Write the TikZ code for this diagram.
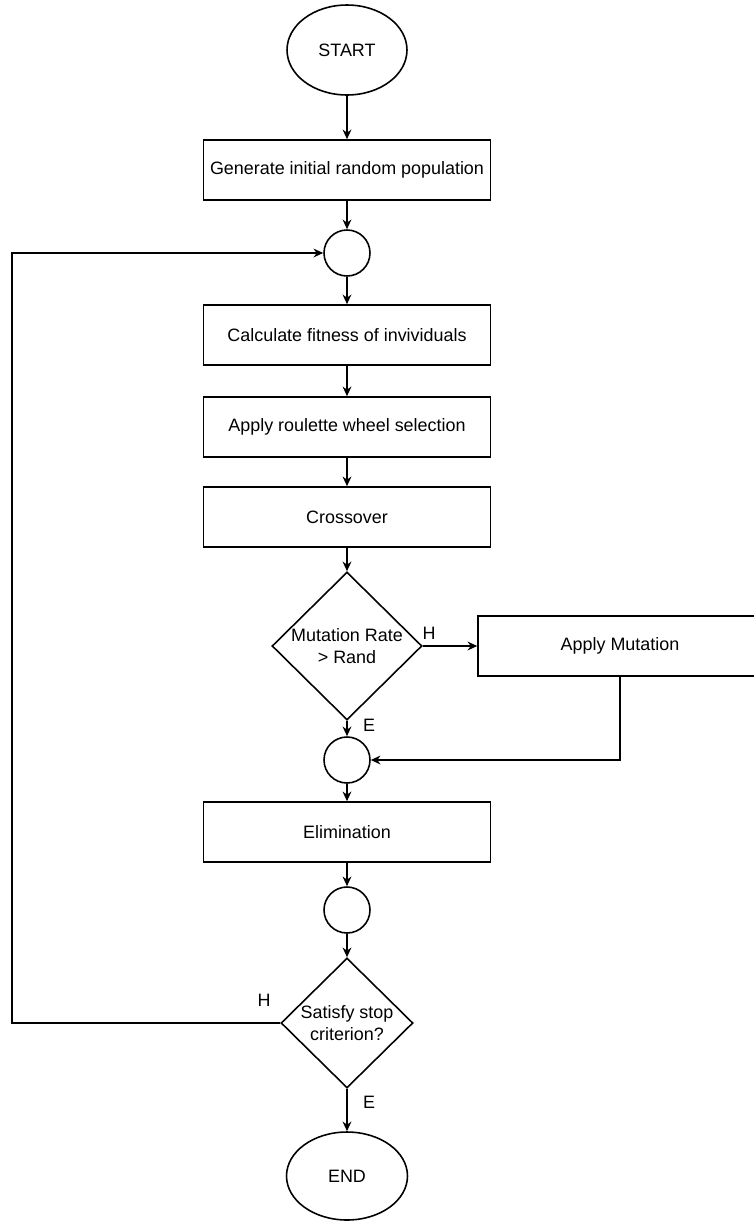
\documentclass[tikz,border=0pt]{standalone}
\usepackage{fontspec}
\setmainfont{Liberation Sans}
\usetikzlibrary{shapes.geometric, arrows.meta}
\tikzset{
    stepbox/.style={draw, line width=0.9pt, minimum width=5.74cm, minimum height=1.2cm, inner sep=0pt},
    termnode/.style={draw, ellipse, line width=0.9pt, minimum width=2.4cm, minimum height=1.8cm, inner sep=0pt},
    joinnode/.style={draw, circle, line width=0.9pt, minimum size=0.92cm, inner sep=0pt},
    decide/.style={draw, diamond, line width=0.9pt, inner sep=0pt, align=center},
    flow/.style={-{Stealth[length=5.5pt, width=5pt]}, line width=0.9pt}
}
\begin{document}
\begin{tikzpicture}[x=0.02cm, y=-0.02cm, font=\fontsize{10.2}{12.5}\selectfont]
    \useasboundingbox (0,0) rectangle (754,1221);
    % Start
    \node[termnode] (start) at (347,50) {START};
    \node[stepbox] (gen) at (347,170) {Generate initial random population};
    \node[joinnode] (c1) at (347,253) {};
    % Main loop boxes
    \node[stepbox] (calc) at (347,335) {Calculate fitness of invividuals};
    \node[stepbox] (roul) at (347,427) {Apply roulette wheel selection};
    \node[stepbox] (cross) at (347,517) {Crossover};
    % Mutation test
    \node[decide, minimum width=3cm, minimum height=2.96cm] (mutq) at (347,646) {Mutation Rate\\ > Rand};
    \node[stepbox, minimum width=5.68cm] (mut) at (620,646) {Apply Mutation};
    \node[joinnode] (c2) at (347,760) {};
    \node[stepbox] (elim) at (347,832) {Elimination};
    \node[joinnode] (c3) at (347,910) {};
    % Stop test
    \node[decide, minimum width=2.64cm, minimum height=2.6cm] (stopq) at (347,1023) {Satisfy stop\\ criterion?};
    \node[termnode, minimum width=2.42cm, minimum height=1.76cm] (finish) at (347,1176) {END};
    \coordinate (back) at (12,1023);
    % Branch labels
    \node (h1) at (429,633) {H};
    \node (e1) at (369,725) {E};
    \node (h2) at (264,1000) {H};
    \node (e2) at (369,1102) {E};
    % Arrows
    \draw [flow] (start) -- (gen);
    \draw [flow] (gen) -- (c1);
    \draw [flow] (c1) -- (calc);
    \draw [flow] (calc) -- (roul);
    \draw [flow] (roul) -- (cross);
    \draw [flow] (cross) -- (mutq);
    \draw [flow] (mutq.east) -- (mut.west);
    \draw [flow] (mutq.south) -- (c2);
    \draw [flow] (mut.south) |- (c2.east);
    \draw [flow] (c2) -- (elim);
    \draw [flow] (elim) -- (c3);
    \draw [flow] (c3) -- (stopq);
    \draw [flow] (stopq.south) -- (finish);
    \draw [flow] (stopq.west) -- (back) |- (c1.west);
\end{tikzpicture}
\end{document}
